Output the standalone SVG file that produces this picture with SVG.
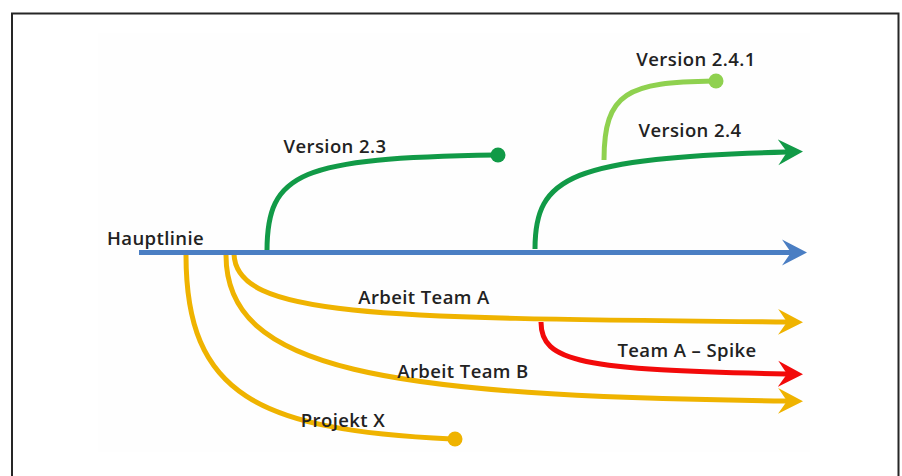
<svg xmlns="http://www.w3.org/2000/svg" width="902" height="476" viewBox="0 0 902 476">
  <style>
    .lbl { font-family: "Open Sans", "Liberation Sans", sans-serif; font-weight: 600; font-size: 18.5px; letter-spacing: 0.4px; fill: #222; }
    .branch { fill: none; stroke-width: 5; stroke-linecap: butt; }
  </style>
  <defs>
    <marker id="arrow-blue" viewBox="0 -14 26 28" refX="9" refY="0" markerWidth="26" markerHeight="28" markerUnits="userSpaceOnUse" orient="auto">
      <path d="M0,-13 L25,0 L0,13 L9,0 Z" fill="#4a7ec3"/>
    </marker>
    <marker id="arrow-green" viewBox="0 -14 26 28" refX="9" refY="0" markerWidth="26" markerHeight="28" markerUnits="userSpaceOnUse" orient="auto">
      <path d="M0,-13 L25,0 L0,13 L9,0 Z" fill="#119a47"/>
    </marker>
    <marker id="arrow-yellow" viewBox="0 -14 26 28" refX="9" refY="0" markerWidth="26" markerHeight="28" markerUnits="userSpaceOnUse" orient="auto">
      <path d="M0,-13 L25,0 L0,13 L9,0 Z" fill="#efb300"/>
    </marker>
    <marker id="arrow-red" viewBox="0 -14 26 28" refX="9" refY="0" markerWidth="26" markerHeight="28" markerUnits="userSpaceOnUse" orient="auto">
      <path d="M0,-13 L25,0 L0,13 L9,0 Z" fill="#f20a0a"/>
    </marker>
  </defs>

  <!-- page background and frame -->
  <rect x="0" y="0" width="902" height="476" fill="#ffffff"/>
  <rect x="98" y="33" width="712" height="419" fill="#fefefe"/>
  <path d="M12,476 V13.5 H898.5 V476" fill="none" stroke="#262626" stroke-width="2"/>

  <!-- branches -->
  <g id="connectors">
    <!-- yellow branches below the main line -->
    <path class="branch" stroke="#efb300" d="M186,255 C186,395 258,430 452,439"/>
    <path class="branch" stroke="#efb300" d="M226,255 C226,370 380,396 787,401" marker-end="url(#arrow-yellow)"/>
    <path class="branch" stroke="#efb300" d="M234,254 C236,318 380,318 787,322" marker-end="url(#arrow-yellow)"/>
    <path class="branch" stroke="#f20a0a" d="M541,322 C541,362 580,370 787,374" marker-end="url(#arrow-red)"/>
    <!-- green release branches above -->
    <path class="branch" stroke="#119a47" d="M267,251 C267,172 300,158 496,155"/>
    <path class="branch" stroke="#8fd14f" d="M604,160 C604,92 628,82 714,81"/>
    <path class="branch" stroke="#119a47" d="M535,249 C535,176 570,158 787,152" marker-end="url(#arrow-green)"/>
    <!-- main line -->
    <path class="branch" stroke="#4a7ec3" d="M139,252.5 H791" marker-end="url(#arrow-blue)"/>
  </g>

  <g id="hauptlinie">
    <text class="lbl" x="107" y="245">Hauptlinie</text>
  </g>
  <g id="version-2-3">
    <circle cx="498" cy="155" r="7.5" fill="#119a47"/>
    <text class="lbl" x="335" y="153" text-anchor="middle">Version 2.3</text>
  </g>
  <g id="version-2-4">
    <text class="lbl" x="690" y="137" text-anchor="middle">Version 2.4</text>
  </g>
  <g id="version-2-4-1">
    <circle cx="716" cy="81" r="7.5" fill="#8fd14f"/>
    <text class="lbl" x="696" y="66" text-anchor="middle">Version 2.4.1</text>
  </g>
  <g id="arbeit-team-a">
    <text class="lbl" x="424" y="304" text-anchor="middle">Arbeit Team A</text>
  </g>
  <g id="team-a-spike">
    <text class="lbl" x="687" y="357" text-anchor="middle">Team A – Spike</text>
  </g>
  <g id="arbeit-team-b">
    <text class="lbl" x="463" y="378" text-anchor="middle">Arbeit Team B</text>
  </g>
  <g id="projekt-x">
    <circle cx="455" cy="439" r="7.5" fill="#efb300"/>
    <text class="lbl" x="343" y="427" text-anchor="middle">Projekt X</text>
  </g>
</svg>
